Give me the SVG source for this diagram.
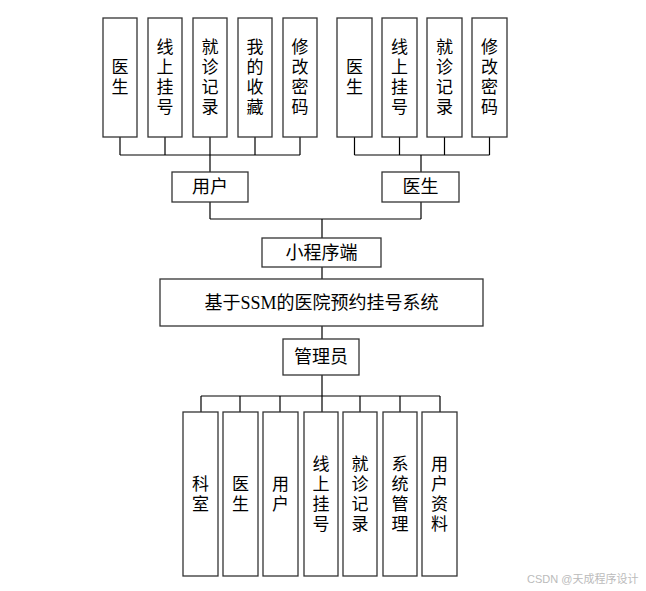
<svg xmlns="http://www.w3.org/2000/svg" width="646" height="591" viewBox="0 0 646 591">
<style>
.box{fill:#fff;stroke:#333;stroke-width:1.3}
.ln{fill:none;stroke:#000;stroke-width:1.2}
.t{font-family:"Liberation Sans","Noto Sans CJK SC",sans-serif;font-size:17px;fill:#000;text-anchor:middle;dominant-baseline:central}
.h{font-family:"Liberation Serif","Noto Sans CJK SC",serif;font-size:18px;fill:#000;text-anchor:middle;dominant-baseline:central}
.wm{font-family:"Liberation Sans","Noto Sans CJK SC",sans-serif;font-size:11px;fill:#bbb}
</style>
<rect width="646" height="591" fill="#fff"/>
<g id="connectors">
<path class="ln" d="M120 137V155M165 137V155M210 137V155M255 137V155M300 137V155M120 155H300M210 155V172"/>
<path class="ln" d="M354.5 137V155M399.5 137V155M444.5 137V155M489.5 137V155M354.5 155H489.5M421 155V172"/>
<path class="ln" d="M210 202V219M421 202V219M210 219H421M322 219V238"/>
<path class="ln" d="M322 267V279M322 326V339M322 375V396M201 396H440"/>
<path class="ln" d="M201 396V412M240 396V412M280 396V412M322 396V412M360 396V412M400 396V412M440 396V412"/>
</g>
<g id="u1"><rect class="box" x="103" y="18" width="34" height="119"/><text class="t" x="120" y="67.5">医</text><text class="t" x="120" y="87.5">生</text></g>
<g id="u2"><rect class="box" x="148" y="18" width="34" height="119"/><text class="t" x="165" y="47.5">线</text><text class="t" x="165" y="67.5">上</text><text class="t" x="165" y="87.5">挂</text><text class="t" x="165" y="107.5">号</text></g>
<g id="u3"><rect class="box" x="193" y="18" width="34" height="119"/><text class="t" x="210" y="47.5">就</text><text class="t" x="210" y="67.5">诊</text><text class="t" x="210" y="87.5">记</text><text class="t" x="210" y="107.5">录</text></g>
<g id="u4"><rect class="box" x="238" y="18" width="34" height="119"/><text class="t" x="255" y="47.5">我</text><text class="t" x="255" y="67.5">的</text><text class="t" x="255" y="87.5">收</text><text class="t" x="255" y="107.5">藏</text></g>
<g id="u5"><rect class="box" x="283" y="18" width="34" height="119"/><text class="t" x="300" y="47.5">修</text><text class="t" x="300" y="67.5">改</text><text class="t" x="300" y="87.5">密</text><text class="t" x="300" y="107.5">码</text></g>
<g id="d1"><rect class="box" x="337" y="18" width="35" height="119"/><text class="t" x="354.5" y="67.5">医</text><text class="t" x="354.5" y="87.5">生</text></g>
<g id="d2"><rect class="box" x="382" y="18" width="35" height="119"/><text class="t" x="399.5" y="47.5">线</text><text class="t" x="399.5" y="67.5">上</text><text class="t" x="399.5" y="87.5">挂</text><text class="t" x="399.5" y="107.5">号</text></g>
<g id="d3"><rect class="box" x="427" y="18" width="35" height="119"/><text class="t" x="444.5" y="47.5">就</text><text class="t" x="444.5" y="67.5">诊</text><text class="t" x="444.5" y="87.5">记</text><text class="t" x="444.5" y="107.5">录</text></g>
<g id="d4"><rect class="box" x="472" y="18" width="35" height="119"/><text class="t" x="489.5" y="47.5">修</text><text class="t" x="489.5" y="67.5">改</text><text class="t" x="489.5" y="87.5">密</text><text class="t" x="489.5" y="107.5">码</text></g>
<g id="user"><rect class="box" x="172" y="172" width="76" height="30"/><text class="h" x="210" y="187">用户</text></g>
<g id="doctor"><rect class="box" x="382" y="172" width="77" height="30"/><text class="h" x="420.5" y="187">医生</text></g>
<g id="mini"><rect class="box" x="262" y="238" width="119" height="29"/><text class="h" x="321.5" y="252.5">小程序端</text></g>
<g id="system"><rect class="box" x="160" y="279" width="323" height="47"/><text class="h" x="321.5" y="302.5">基于SSM的医院预约挂号系统</text></g>
<g id="admin"><rect class="box" x="283" y="339" width="76" height="36"/><text class="h" x="321" y="357">管理员</text></g>
<g id="a1"><rect class="box" x="183" y="412" width="35" height="164"/><text class="t" x="200.5" y="484">科</text><text class="t" x="200.5" y="504">室</text></g>
<g id="a2"><rect class="box" x="223" y="412" width="35" height="164"/><text class="t" x="240.5" y="484">医</text><text class="t" x="240.5" y="504">生</text></g>
<g id="a3"><rect class="box" x="263" y="412" width="35" height="164"/><text class="t" x="280.5" y="484">用</text><text class="t" x="280.5" y="504">户</text></g>
<g id="a4"><rect class="box" x="304" y="412" width="34" height="164"/><text class="t" x="321" y="464">线</text><text class="t" x="321" y="484">上</text><text class="t" x="321" y="504">挂</text><text class="t" x="321" y="524">号</text></g>
<g id="a5"><rect class="box" x="343" y="412" width="34" height="164"/><text class="t" x="360" y="464">就</text><text class="t" x="360" y="484">诊</text><text class="t" x="360" y="504">记</text><text class="t" x="360" y="524">录</text></g>
<g id="a6"><rect class="box" x="383" y="412" width="34" height="164"/><text class="t" x="400" y="464">系</text><text class="t" x="400" y="484">统</text><text class="t" x="400" y="504">管</text><text class="t" x="400" y="524">理</text></g>
<g id="a7"><rect class="box" x="422" y="412" width="35" height="164"/><text class="t" x="439.5" y="464">用</text><text class="t" x="439.5" y="484">户</text><text class="t" x="439.5" y="504">资</text><text class="t" x="439.5" y="524">料</text></g>
<text class="wm" x="527" y="583">CSDN @天成程序设计</text>
</svg>
